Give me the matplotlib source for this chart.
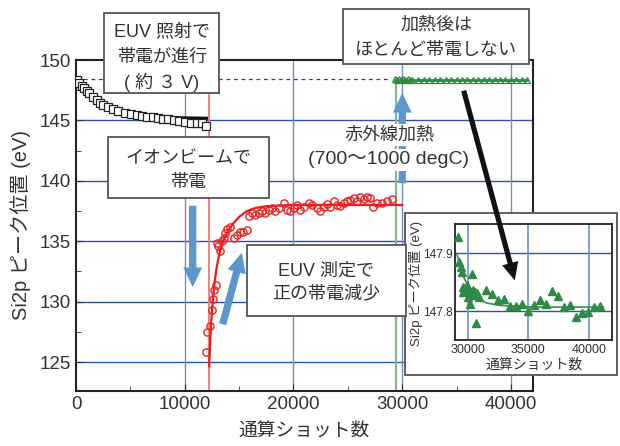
import numpy as np
import matplotlib
matplotlib.use('Agg')
import matplotlib.pyplot as plt
from matplotlib.patches import Rectangle, FancyArrowPatch

plt.rcParams['font.family'] = ['Liberation Sans', 'Noto Sans CJK JP', 'DejaVu Sans']

# --- データ ---
# EUV照射による帯電 (黒四角)
black_x = [60, 300, 520, 740, 990, 1220, 1540, 1900, 2210, 2520, 2980, 3440, 3900,
           4510, 5030, 5590, 6050, 6510, 7060, 7520, 8040, 8500, 9020, 9510, 10040,
           10590, 11110, 11570, 11940]
black_y = [148.35, 148.07, 147.85, 147.66, 147.46, 147.25, 146.97, 146.70, 146.42,
           146.28, 146.09, 145.92, 145.81, 145.59, 145.54, 145.45, 145.37, 145.31,
           145.26, 145.18, 145.10, 145.10, 145.04, 144.98, 144.88, 144.82, 144.82,
           144.77, 144.55]
black_fit_x = [0, 400, 800, 1200, 1600, 2200, 3100, 4000, 4700, 6000, 7700, 9500, 12000]
black_fit_y = [148.30, 147.85, 147.45, 147.05, 146.72, 146.35, 146.00, 145.78, 145.62,
               145.45, 145.28, 145.22, 145.18]

# イオンビーム帯電後の回復 (赤丸)
red_x = [11970, 12030, 12340, 12490, 12580, 12710, 12890, 12950, 13100, 13260, 13410,
         13570, 13720, 13870, 14180, 14490, 14800, 15100, 15400, 15720, 15870, 16180,
         16480, 16790, 17100, 17400, 17710, 18020, 18320, 18630, 19090, 19400, 19710,
         20010, 20320, 20630, 20930, 21390, 21700, 22160, 22470, 22770, 23080, 23390,
         23690, 24000, 24310, 24610, 24920, 25230, 25530, 25840, 26150, 26460, 26770,
         27070, 27320, 27690, 28150, 28610, 29070]
red_y = [125.8, 127.5, 128.0, 129.3, 130.2, 131.0, 131.4, 134.85, 134.6, 134.2, 135.0,
         135.3, 135.7, 136.0, 136.2, 135.3, 135.5, 135.8, 135.8, 135.9, 137.05, 137.33,
         137.19, 137.33, 137.46, 137.33, 137.6, 137.74, 137.46, 137.74, 138.16, 137.6,
         137.46, 137.74, 138.0, 137.6, 137.87, 138.16, 138.0, 137.74, 137.46, 137.87,
         138.1, 137.87, 138.29, 138.0, 137.93, 138.16, 138.29, 138.43, 138.57, 138.29,
         138.65, 138.49, 138.7, 138.57, 137.87, 138.2, 138.16, 138.29, 138.49]
red_fit_x = [12250, 12350, 12490, 12700, 12950, 13250, 13570, 14000, 14490, 15000,
             15720, 16500, 17560, 20000, 30000]
red_fit_y = [124.65, 127.0, 129.06, 131.3, 132.9, 134.2, 135.1, 135.9, 136.5, 137.0,
             137.5, 137.75, 137.9, 138.0, 138.0]

# 赤外線加熱後 (緑三角) : メイン図
green_main_x = [29300, 29500, 29700, 29900, 30100, 30300, 30500, 30700, 30900, 31500,
                32000, 32500, 33000, 33500, 34000, 34500, 35000, 35500, 36000, 36500,
                37000, 37500, 38000, 38500, 39000, 39500, 40000, 40500, 41000, 41500]
green_main_y = [148.42, 148.38, 148.45, 148.35, 148.40, 148.36, 148.42, 148.34, 148.38,
                148.37, 148.36, 148.35, 148.36, 148.34, 148.34, 148.35, 148.33, 148.34,
                148.35, 148.34, 148.37, 148.35, 148.34, 148.34, 148.33, 148.33, 148.33,
                148.34, 148.34, 148.33]
green_main_fit_x = [29300, 41500]
green_main_fit_y = [148.36, 148.36]

# 挿入図 (緑三角)
inset_x = [29220, 29300, 29420, 29500, 29640, 29590, 29780, 29920, 30000, 30050, 30190,
           30330, 30410, 30520, 30600, 30690, 30800, 30910, 31510, 31980, 32480, 33000,
           33500, 33990, 34490, 34980, 35480, 35980, 36470, 36970, 37460, 37960, 38450,
           38950, 39450, 39940, 40440, 40940]
inset_y = [147.929, 147.885, 147.877, 147.868, 147.842, 147.833, 147.839, 147.845,
           147.825, 147.833, 147.813, 147.865, 147.836, 147.828, 147.833, 147.779,
           147.831, 147.825, 147.836, 147.829, 147.820, 147.821, 147.809, 147.809,
           147.812, 147.800, 147.810, 147.820, 147.812, 147.835, 147.826, 147.807,
           147.810, 147.790, 147.796, 147.799, 147.807, 147.809]
inset_fit_x = [29100, 29300, 29500, 29700, 29920, 30330, 30700, 31020, 31600, 32670,
               35420, 41200]
inset_fit_y = [147.900, 147.883, 147.871, 147.858, 147.848, 147.831, 147.823, 147.819,
               147.814, 147.810, 147.807, 147.807]

W, H = 620, 446
fig = plt.figure(figsize=(6.2, 4.46), dpi=100)


def P(px, py):
    # ピクセル座標 -> インチ (左下原点)
    return (px / 100, (H - py) / 100)


ax = fig.add_axes([76 / W, 1 - 391 / H, 456.6 / W, 331 / H])
ax.set_xlim(0, 42000)
ax.set_ylim(122.6, 150)
ax.set_xticks([0, 10000, 20000, 30000, 40000])
ax.set_xticks([5000, 15000, 25000, 35000], minor=True)
ax.set_yticks([125, 130, 135, 140, 145, 150])
ax.set_yticks([127.5, 132.5, 137.5, 142.5, 147.5], minor=True)
ax.tick_params(which='both', direction='in', labelsize=13.5, labelcolor='#333333',
               color='#333333')
ax.tick_params(which='major', length=5)
ax.tick_params(which='minor', length=3.5)
for s in ax.spines.values():
    s.set_linewidth(1.5)
    s.set_color('#222222')
for yv in [125, 130, 135, 140, 145]:
    ax.axhline(yv, color='#2a55a8', lw=1.0, zorder=0.5)
for xv in [10000, 20000, 30000, 40000]:
    ax.axvline(xv, color='#6d8fcf', lw=1.0, zorder=0.5)

ax.set_xlabel('通算ショット数', fontsize=13.5, color='#333333', labelpad=8)
ax.set_ylabel('Si2p ピーク位置 (eV)', fontsize=14.5, color='#333333', labelpad=6)

ax.axvline(12200, color='#f07878', lw=1.3, zorder=1)
ax.plot([29400, 29400], [122.6, 148.1], color='#86b886', lw=1.6, zorder=1)
ax.plot([0, 28900], [148.45, 148.45], color='#444444', lw=0.9, ls=(0, (3, 3)), zorder=1)

ax.plot(black_fit_x, black_fit_y, color='#111111', lw=2.2, zorder=3)
ax.plot(black_x, black_y, 's', ms=5.5, mfc='white', mec='#222222', mew=0.9, zorder=4)

ax.plot(red_fit_x, red_fit_y, color='#f01818', lw=1.6, zorder=3)
ax.plot(red_x, red_y, 'o', ms=5.2, mfc='none', mec='#f02020', mew=1.0, zorder=4)

ax.plot(green_main_fit_x, green_main_fit_y, color='#2e8b3e', lw=2.0, zorder=3)
ax.plot(green_main_x, green_main_y, '^', ms=5, mfc='none', mec='#2e8b3e', mew=0.9, zorder=4)

# 挿入図の枠
fig.add_artist(Rectangle(P(405, 375), 2.12, 1.62, transform=fig.dpi_scale_trans,
                         facecolor='white', edgecolor='#555555', lw=1.3, zorder=1))

axi = fig.add_axes([455 / W, 1 - 340 / H, 157.3 / W, 116 / H])
axi.set_zorder(2)
axi.set_xlim(28950, 41950)
axi.set_ylim(147.75, 147.951)
axi.set_xticks([30000, 35000, 40000])
axi.set_yticks([147.8, 147.9])
axi.set_yticklabels(['147.8', '147.9'])
axi.tick_params(direction='in', labelsize=9, labelcolor='#333333', length=0, pad=3)
axi.tick_params(axis='y', labelsize=8.5, pad=2)
for s in axi.spines.values():
    s.set_linewidth(1.3)
    s.set_color('#222222')
for yv in [147.8, 147.9]:
    axi.axhline(yv, color='#2a55a8', lw=1.0, zorder=0.5)
for xv in [30000, 35000, 40000]:
    axi.axvline(xv, color='#6d8fcf', lw=1.2, zorder=0.5)
axi.plot(inset_fit_x, inset_fit_y, color='#3f9a4c', lw=1.3, zorder=3)
axi.plot(inset_x, inset_y, '^', ms=5.5, color='#2e8b46', mec='#2e8b46', zorder=4)
axi.set_xlabel('通算ショット数', fontsize=10, color='#333333', labelpad=1)
# 挿入図の縦軸ラベル
fig.text(416 / W, 1 - 283 / H, 'Si2p ピーク位置 (eV)', rotation=90, ha='center',
         va='center', fontsize=9.5, color='#333333', zorder=7)

# 注釈の箱
boxes = [
    ((104.3, 13.3, 219, 93.3), ['EUV 照射で', '帯電が進行', '( 約 ３ V)'], [32, 57, 82]),
    ((107.7, 136.7, 269, 198.3), ['イオンビームで', '帯電'], [159, 182]),
    ((343.3, 9.3, 529, 64), ['加熱後は', 'ほとんど帯電しない'], [25, 50]),
    ((246.7, 245, 405.7, 316), ['EUV 測定で', '正の帯電減少'], [271, 294]),
]
for (x0, y0, x1, y1), lines, ys in boxes:
    fig.add_artist(Rectangle(P(x0, y1), (x1 - x0) / 100, (y1 - y0) / 100,
                             transform=fig.dpi_scale_trans, facecolor='white',
                             edgecolor='#555555', lw=1.3, zorder=3))
    for t, yy in zip(lines, ys):
        fig.text((x0 + x1) / 2 / W, 1 - yy / H, t, ha='center', va='center',
                 fontsize=13, color='#333333', zorder=4)

# 青い矢印
blue = '#5b97cc'
for a, b in [((192.7, 203), (192.7, 290)), ((222, 327), (242.5, 250)),
             ((402.3, 186), (402.3, 90))]:
    fig.add_artist(FancyArrowPatch(P(*a), P(*b), transform=fig.dpi_scale_trans,
                                   arrowstyle='simple,head_length=0.95,head_width=0.9,tail_width=0.35',
                                   mutation_scale=15, color=blue, lw=0, zorder=3.5))

# 赤外線加熱のラベル
for t, yy, fs in [('赤外線加熱', 135, 13), ('(700〜1000 degC)', 160, 14)]:
    fig.text(389 / W, 1 - yy / H, t, ha='center', va='center', fontsize=fs,
             color='#333333', zorder=5,
             bbox=dict(facecolor='white', edgecolor='none', pad=1.5))

# 黒い矢印 (挿入図へ)
fig.add_artist(FancyArrowPatch(P(463, 88), P(515.5, 283), transform=fig.dpi_scale_trans,
                               arrowstyle='simple,head_length=0.85,head_width=0.8,tail_width=0.25',
                               mutation_scale=15, color='#111111', lw=0, zorder=6))

fig.savefig('out.png', dpi=100)
